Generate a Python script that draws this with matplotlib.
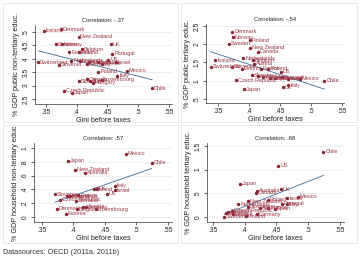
import numpy as np
import matplotlib
matplotlib.use("Agg")
import matplotlib.pyplot as plt
from matplotlib.patches import Rectangle

plt.rcParams['font.family'] = ['Liberation Sans', 'DejaVu Sans']

# panel 1: public non-tertiary
countries_1 = ["Iceland", "Denmark", "New Zealand", "Sweden", "Norway", "UK", "Belgium",
               "Estonia", "Finland", "Portugal", "Netherlands", "Switzerland", "Slovenia",
               "France", "Germany", "Australia", "Austria", "Greece", "US", "Israel",
               "Poland", "Mexico", "Italy", "Slovakia", "Canada", "Spain", "Hungary",
               "Luxembourg", "Chile", "Czech Republic", "Japan"]
gini_1 = [.346, .374, .403, .367, .376, .456, .408, .388, .403, .458, .391, .3375, .371,
          .405, .417, .420, .435, .441, .4515, .464, .435, .482, .466, .404, .416, .421,
          .426, .441, .523, .380, .393]
pub_nontert = [5.05, 5.10, 4.82, 4.54, 4.54, 4.54, 4.35, 4.24, 4.24, 4.18, 3.92, 3.87, 3.77,
               3.90, 3.79, 3.88, 3.87, 3.81, 3.96, 3.87, 3.52, 3.56, 3.36, 3.17, 3.24, 3.18,
               3.11, 3.21, 2.90, 2.80, 2.73]

# panel 2: public tertiary
countries_2 = ["Denmark", "Norway", "Finland", "Sweden", "New Zealand", "Canada", "Netherlands",
               "Iceland", "Belgium", "Austria", "Switzerland", "Slovenia", "Estonia", "France",
               "Poland", "US", "Slovakia", "Australia", "Hungary", "Luxembourg", "Spain",
               "Portugal", "Israel", "Mexico", "Czech Republic", "Chile", "Italy", "UK", "Japan"]
gini_2 = [.373, .374, .401, .367, .401, .415, .3905, .345, .406, .408, .338, .372, .388, .419,
          .431, .452, .404, .414, .423, .434, .442, .4527, .463, .482, .379, .522, .4635, .455, .391]
pub_tert = [2.35, 2.19, 2.11, 2.02, 1.91, 1.80, 1.61, 1.56, 1.56, 1.46, 1.38, 1.38, 1.33, 1.33,
            1.33, 1.24, 1.15, 1.12, 1.10, 1.07, 1.07, 1.09, 1.05, 1.05, 1.01, 1.00, .87, .82, .77]

# panel 3: household non-tertiary
countries_3 = ["Mexico", "Chile", "Japan", "New Zealand", "Australia", "Italy", "Israel", "Poland",
               "UK", "US", "Slovenia", "Netherlands", "Finland", "France", "Czech Republic",
               "Slovakia", "Denmark", "Belgium", "Germany", "Austria", "Luxembourg", "Estonia"]
gini_3 = [.483, .524, .392, .403, .4185, .466, .466, .432, .437, .4535, .371, .3896, .3948, .408,
          .379, .404, .3735, .406, .416, .420, .436, .3885]
hh_nontert = [.913, .787, .816, .681, .642, .454, .385, .405, .41, .34, .33, .30, .30, .315,
              .25, .236, .116, .11, .14, .15, .11, .05]

# panel 4: household tertiary
countries_4 = ["Chile", "US", "Japan", "UK", "Australia", "Canada", "Mexico", "Israel", "Poland",
               "New Zealand", "Italy", "Portugal", "Netherlands", "Slovakia", "Austria", "France",
               "Spain", "Czech Republic", "Denmark", "Slovenia", "Estonia", "Germany", "Sweden",
               "Finland"]
gini_4 = [.524, .453, .393, .457, .419, .418, .484, .467, .4365, .405, .466, .459, .390, .406,
          .424, .4375, .448, .380, .3745, .371, .382, .420, .368, .4024]
hh_tert = [1.38, 1.08, .70, .585, .555, .51, .43, .395, .36, .33, .27, .28, .27, .22, .20, .20,
           .17, .13, .11, .08, .06, .055, .01, .02]

titles = ["Correlation: -.37", "Correlation: -.54", "Correlation: .57", "Correlation: .68"]
ylabels = ["% GDP public non-tertiary educ.", "% GDP public tertiary educ.",
           "% GDP household non-tertiary educ.", "% GDP household tertiary educ."]
xticks = [.35, .4, .45, .5, .55]
yticks_all = [[2.5, 3, 3.5, 4, 4.5, 5], [.5, 1, 1.5, 2, 2.5], [0, .2, .4, .6, .8, 1], [0, .5, 1, 1.5]]

W, H = 360, 260
# axes boxes in pixels: left, top, right, bottom ; limits
boxes = [(35, 25, 172, 104), (206, 24, 344, 103), (34, 143, 172, 222), (207, 143, 344, 222)]
xlims = [(.3321, .5552), (.3301, .5537), (.3378, .5562), (.341, .5564)]
ylims = [(2.313, 5.261), (.389, 2.556), (-.0725, 1.072), (-.106, 1.563)]
frames = [(3, 3, 178, 122), (181, 3, 357, 122), (3, 125, 178, 243), (181, 125, 357, 243)]

data = [(countries_1, gini_1, pub_nontert), (countries_2, gini_2, pub_tert),
        (countries_3, gini_3, hh_nontert), (countries_4, gini_4, hh_tert)]

red = '#8b2232'
fig = plt.figure(figsize=(W / 100, H / 100), dpi=100)
fig.patch.set_facecolor('white')

for (l, t, r, b) in frames:
    fig.patches.append(Rectangle((l / W, 1 - b / H), (r - l) / W, (b - t) / H,
                                 transform=fig.transFigure, fill=False,
                                 edgecolor='#e6e6e6', lw=0.6))

def fmt(v):
    s = ('%g' % v)
    if s.startswith('0.'):
        s = s[1:]
    return s

for i in range(4):
    l, t, r, b = boxes[i]
    ax = fig.add_axes([l / W, 1 - b / H, (r - l) / W, (b - t) / H])
    names, x, y = data[i]
    x = np.array(x)
    y = np.array(y)
    ax.scatter(x, y, s=6, color=red, zorder=3, linewidths=0)
    for n, xx, yy in zip(names, x, y):
        ax.text(xx + 0.003, yy, n, fontsize=4.0, color='#9b3745', va='center', ha='left', zorder=4)
    k, c = np.polyfit(x, y, 1)
    xs = np.array([x.min(), x.max()])
    ax.plot(xs, k * xs + c, color='#3d6a94', lw=0.6, zorder=2)
    ax.set_xlim(*xlims[i])
    ax.set_ylim(*ylims[i])
    ax.set_xticks(xticks)
    ax.set_xticklabels([fmt(v) for v in xticks])
    yt = yticks_all[i]
    ax.set_yticks(yt)
    ax.set_yticklabels([fmt(v) for v in yt], rotation=90, va='center')
    ax.tick_params(labelsize=4.8, length=2.2, width=0.5, pad=1.5, colors='#222222')
    for s in ['top', 'right']:
        ax.spines[s].set_visible(False)
    for s in ['left', 'bottom']:
        ax.spines[s].set_linewidth(0.5)
        ax.spines[s].set_color('#333333')
    ax.grid(axis='y', color='#e6eef0', lw=0.6)
    ax.set_axisbelow(True)
    ax.set_title(titles[i], fontsize=4.2, pad=2, color='#222222')
    ax.set_xlabel("Gini before taxes", fontsize=5.2, labelpad=0.5, color='#222222')
    ax.set_ylabel(ylabels[i], fontsize=5.2, labelpad=2, color='#222222')

fig.text(3 / W, 1 - 252 / H, "Datasources: OECD (2011a, 2011b)", fontsize=5.2,
         color='#333333', va='center', ha='left')

fig.savefig("out.png", dpi=100)
